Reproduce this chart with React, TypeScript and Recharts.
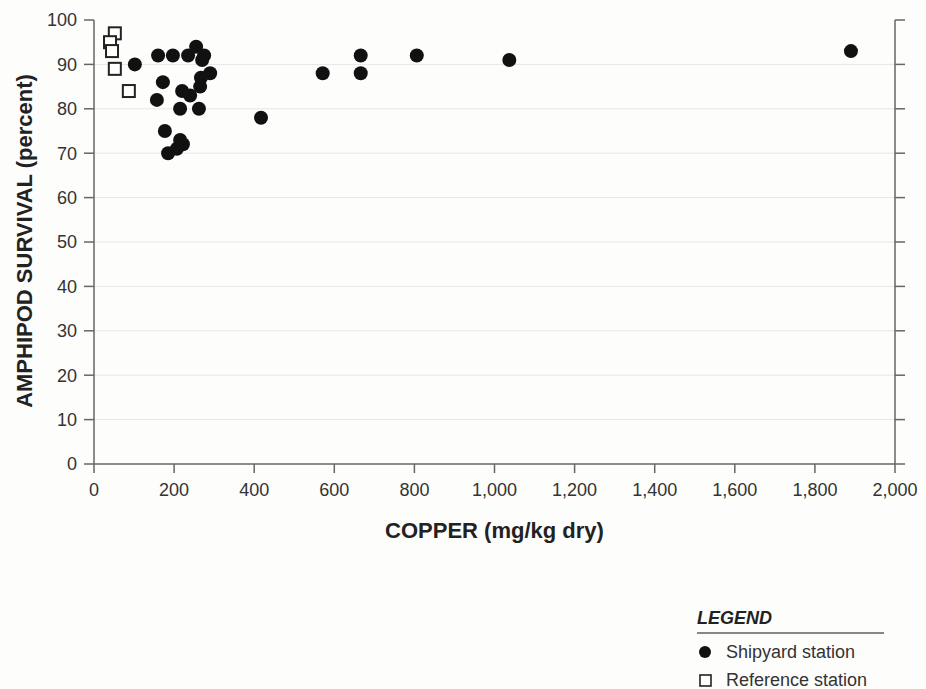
import React from "react";
import {
  CartesianGrid,
  Scatter,
  ScatterChart,
  XAxis,
  YAxis,
} from "recharts";

// copper (mg/kg dry) and amphipod survival (percent)
const shipyardCopper = [
  102, 160, 197, 235, 255, 275, 270, 290, 267, 265, 172, 220, 240, 157, 215,
  262, 417, 177, 215, 222, 185, 207, 571, 666, 666, 806, 1037, 1890,
];
const shipyardSurvival = [
  90, 92, 92, 92, 94, 92, 91, 88, 87, 85, 86, 84, 83, 82, 80, 80, 78, 75, 73,
  72, 70, 71, 88, 92, 88, 92, 91, 93,
];
const referenceCopper = [52, 40, 45, 52, 87];
const referenceSurvival = [97, 95, 93, 89, 84];

const xTicks = [0, 200, 400, 600, 800, 1000, 1200, 1400, 1600, 1800, 2000];
const yTicks = [0, 10, 20, 30, 40, 50, 60, 70, 80, 90, 100];
const gridValues = [10, 20, 30, 40, 50, 60, 70, 80, 90];

const seriesNames = ["Shipyard station", "Reference station"];

const shipyard = shipyardCopper.map((copper, i) => ({
  copper,
  survival: shipyardSurvival[i],
}));
const reference = referenceCopper.map((copper, i) => ({
  copper,
  survival: referenceSurvival[i],
}));

const FONT = '"Liberation Sans", Arial, Helvetica, sans-serif';
const AXIS = "#666";
const TEXT = "#333";

const formatThousands = (v: number) => v.toLocaleString("en-US");

const Dot = (props: any) => (
  <circle cx={props.cx} cy={props.cy} r={7} fill="#111" />
);

const Box = (props: any) => (
  <rect
    x={props.cx - 6}
    y={props.cy - 6}
    width={12}
    height={12}
    fill="#fff"
    stroke="#222"
    strokeWidth={2}
  />
);

const YTitle = (props: any) => {
  const { viewBox } = props;
  const cx = viewBox.x + 24;
  const cy = viewBox.y + viewBox.height / 2 - 1;
  return (
    <text
      x={cx}
      y={cy}
      transform={`rotate(-90 ${cx} ${cy})`}
      textAnchor="middle"
      dominantBaseline="central"
      fontSize={22}
      fontWeight="bold"
      fill="#222"
      fontFamily={FONT}
    >
      AMPHIPOD SURVIVAL (percent)
    </text>
  );
};

const LegendBox = () => (
  <div
    style={{
      position: "absolute",
      left: 697,
      top: 607,
      fontFamily: FONT,
      color: TEXT,
      fontSize: 18,
    }}
  >
    <div
      style={{
        fontWeight: "bold",
        fontStyle: "italic",
        color: "#222",
        borderBottom: "2px solid #888",
        paddingBottom: 3,
        width: 187,
        lineHeight: "22px",
      }}
    >
      LEGEND
    </div>
    {seriesNames.map((name, i) => (
      <div
        key={name}
        style={{ display: "flex", alignItems: "center", height: 28, marginTop: i === 0 ? 4 : 0 }}
      >
        <svg width={24} height={16}>
          {i === 0 ? (
            <circle cx={8} cy={8} r={6} fill="#111" />
          ) : (
            <rect x={3} y={3} width={11} height={11} fill="#fff" stroke="#222" strokeWidth={1.6} />
          )}
        </svg>
        <span style={{ marginLeft: 5 }}>{name}</span>
      </div>
    ))}
  </div>
);

export default function App() {
  return (
    <div style={{ width: 926, height: 689, background: "#fdfdfb", position: "relative" }}>
      <style>{"body{margin:0}"}</style>
      <ScatterChart
        width={926}
        height={689}
        margin={{ top: 20, right: 21, bottom: 145, left: 0 }}
      >
        <CartesianGrid
          horizontal
          vertical={false}
          horizontalValues={gridValues}
          stroke="#e6e6e6"
          strokeWidth={1}
        />
        <XAxis
          type="number"
          dataKey="copper"
          domain={[0, 2000]}
          ticks={xTicks}
          tickFormatter={formatThousands}
          height={80}
          tickSize={9}
          tickMargin={10}
          stroke={AXIS}
          strokeWidth={1.5}
          tick={{ fill: TEXT, fontSize: 18, fontFamily: FONT }}
          label={{
            value: "COPPER (mg/kg dry)",
            position: "insideBottom",
            offset: 6,
            fontSize: 22,
            fontWeight: "bold",
            fill: "#222",
            fontFamily: FONT,
          }}
        />
        <YAxis
          type="number"
          dataKey="survival"
          domain={[0, 100]}
          ticks={yTicks}
          width={94}
          tickSize={10}
          tickMargin={7}
          stroke={AXIS}
          strokeWidth={1.5}
          tick={{ fill: TEXT, fontSize: 18, fontFamily: FONT }}
          label={<YTitle />}
        />
        <YAxis
          yAxisId="right"
          orientation="right"
          type="number"
          domain={[0, 100]}
          ticks={yTicks}
          allowDataOverflow
          width={10}
          tickSize={10}
          tickFormatter={() => ""}
          stroke={AXIS}
          strokeWidth={1.5}
        />
        <Scatter
          name="Shipyard station"
          data={shipyard}
          shape={<Dot />}
          isAnimationActive={false}
        />
        <Scatter
          name="Reference station"
          data={reference}
          shape={<Box />}
          isAnimationActive={false}
        />
      </ScatterChart>
      <LegendBox />
    </div>
  );
}
